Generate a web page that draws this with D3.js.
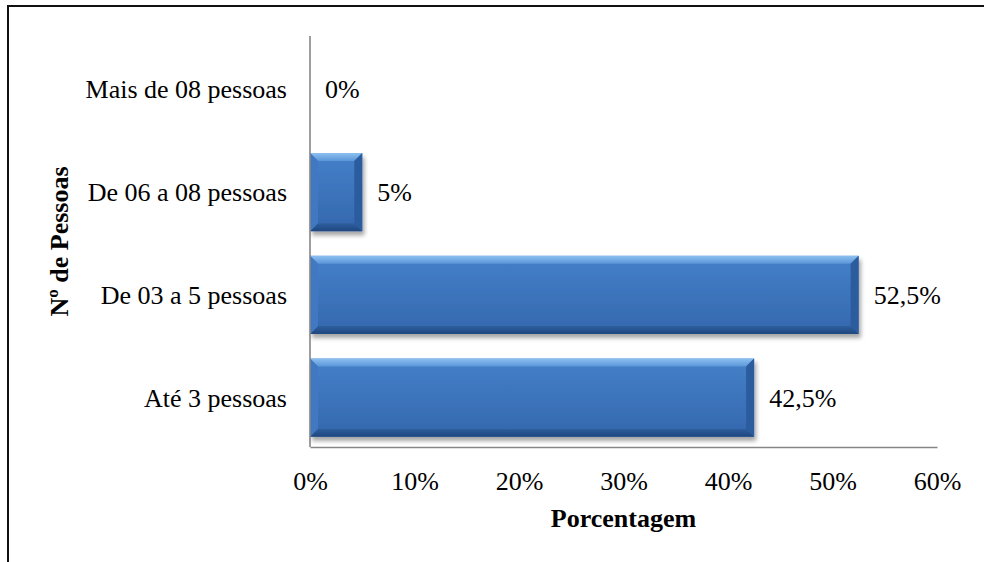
<!DOCTYPE html>
<html>
<head>
<meta charset="utf-8">
<script src="https://cdn.jsdelivr.net/npm/d3@7"></script>
<style>
  html, body { margin: 0; padding: 0; background: #fff; }
  svg { display: block; }
  text { font-family: "Liberation Serif", "Times New Roman", serif; fill: #000; }
</style>
</head>
<body>
<svg id="chart" width="984" height="562"></svg>
<script>
// Household size distribution (percent of respondents)
const categories = ["Mais de 08 pessoas", "De 06 a 08 pessoas", "De 03 a 5 pessoas", "Até 3 pessoas"];
const values = [0, 5, 52.5, 42.5];
const valueLabels = ["0%", "5%", "52,5%", "42,5%"];
const xTicks = [0, 10, 20, 30, 40, 50, 60];
const xTitle = "Porcentagem";
const yTitle = "Nº de Pessoas";

const data = categories.map((c, i) => ({ cat: c, value: values[i], label: valueLabels[i] }));

const svg = d3.select("#chart");
const plot = { left: 310, right: 937, top: 36, bottom: 447 };

const x = d3.scaleLinear().domain([0, 60]).range([plot.left, plot.right]);
const y = d3.scaleBand().domain(categories).range([plot.top + 2, plot.bottom + 2])
  .paddingInner(0.24).paddingOuter(0.12);

const defs = svg.append("defs");
const shadow = defs.append("filter").attr("id", "shadow")
  .attr("x", "-10%").attr("y", "-10%").attr("width", "130%").attr("height", "140%");
shadow.append("feDropShadow").attr("dx", 2).attr("dy", 4).attr("stdDeviation", 2.2)
  .attr("flood-color", "#000").attr("flood-opacity", 0.35);

const body = defs.append("linearGradient").attr("id", "body").attr("x1", 0).attr("y1", 0).attr("x2", 0).attr("y2", 1);
body.append("stop").attr("offset", "0%").attr("stop-color", "#4580c8");
body.append("stop").attr("offset", "100%").attr("stop-color", "#3468ae");

const topBevel = defs.append("linearGradient").attr("id", "topBevel").attr("x1", 0).attr("y1", 0).attr("x2", 0).attr("y2", 1);
topBevel.append("stop").attr("offset", "0%").attr("stop-color", "#8cc0f0");
topBevel.append("stop").attr("offset", "100%").attr("stop-color", "#5a95d8");

const botBevel = defs.append("linearGradient").attr("id", "botBevel").attr("x1", 0).attr("y1", 0).attr("x2", 0).attr("y2", 1);
botBevel.append("stop").attr("offset", "0%").attr("stop-color", "#2f5f9f");
botBevel.append("stop").attr("offset", "100%").attr("stop-color", "#1f477e");

// Outer frame
svg.append("rect").attr("x", 8).attr("y", 6).attr("width", 1000).attr("height", 600)
  .attr("fill", "none").attr("stroke", "#111").attr("stroke-width", 2);

// Bars with bevelled edges
const bars = svg.append("g").selectAll("g").data(data.filter(d => d.value > 0)).join("g")
  .attr("filter", "url(#shadow)");

bars.each(function (d) {
  const g = d3.select(this);
  const x0 = x(0), x1 = x(d.value), y0 = y(d.cat), y1 = y0 + y.bandwidth();
  const b = Math.min(8, (x1 - x0) / 2);
  g.append("rect").attr("x", x0).attr("y", y0).attr("width", x1 - x0).attr("height", y1 - y0)
    .attr("fill", "url(#body)");
  const poly = (pts, fill) => g.append("polygon")
    .attr("points", pts.map(p => p.join(",")).join(" ")).attr("fill", fill);
  poly([[x0, y0], [x1, y0], [x1 - b, y0 + b], [x0 + b, y0 + b]], "url(#topBevel)");
  poly([[x0, y1], [x1, y1], [x1 - b, y1 - b], [x0 + b, y1 - b]], "url(#botBevel)");
  poly([[x0, y0], [x0 + b, y0 + b], [x0 + b, y1 - b], [x0, y1]], "#3f79c2");
  poly([[x1, y0], [x1 - b, y0 + b], [x1 - b, y1 - b], [x1, y1]], "#2c5c9e");
});

// Axes
const axisColor = "#868686";
const xAxis = d3.axisBottom(x).tickValues(xTicks).tickSize(0).tickPadding(25)
  .tickFormat(d => d + "%");
const gx = svg.append("g").attr("transform", `translate(0,${plot.bottom})`).call(xAxis);
gx.select(".domain").attr("stroke", axisColor).attr("stroke-width", 1.6);
gx.selectAll("text").attr("font-size", 26).attr("font-family", "Liberation Serif, Times New Roman, serif").attr("fill", "#000");

const yAxis = d3.axisLeft(y).tickSize(0).tickPadding(23);
const gy = svg.append("g").attr("transform", `translate(${plot.left},0)`).call(yAxis);
gy.select(".domain").attr("d", `M0,${plot.top}V${plot.bottom}`)
  .attr("stroke", axisColor).attr("stroke-width", 1.6);
gy.selectAll("text").attr("font-size", 26).attr("font-family", "Liberation Serif, Times New Roman, serif")
  .attr("fill", "#000").attr("dy", "0.35em");

// Value labels
svg.append("g").selectAll("text").data(data).join("text")
  .attr("x", d => x(d.value) + 15)
  .attr("y", d => y(d.cat) + y.bandwidth() / 2)
  .attr("dy", "0.35em")
  .attr("font-size", 26)
  .text(d => d.label);

// Axis titles
svg.append("text").attr("x", (plot.left + plot.right) / 2).attr("y", 527)
  .attr("text-anchor", "middle").attr("font-size", 26).attr("font-weight", "bold").text(xTitle);
svg.append("text").attr("transform", `translate(68,${(plot.top + plot.bottom) / 2}) rotate(-90)`)
  .attr("text-anchor", "middle").attr("font-size", 26).attr("font-weight", "bold").text(yTitle);
</script>
</body>
</html>
